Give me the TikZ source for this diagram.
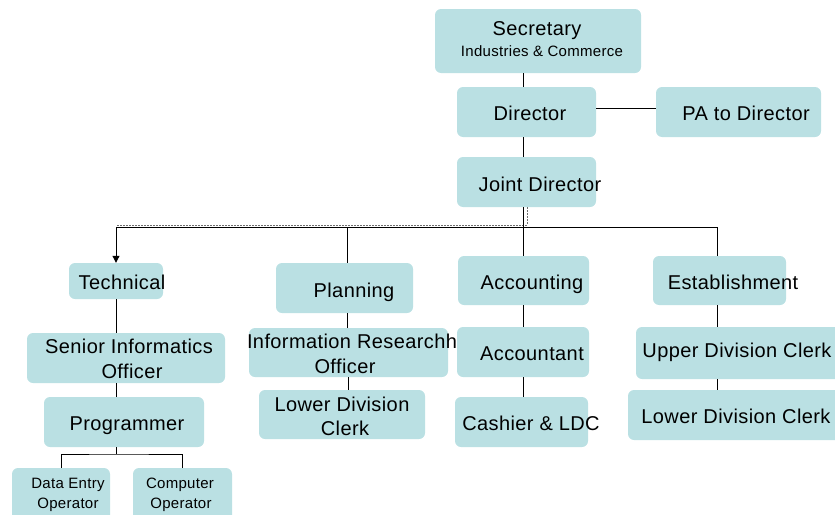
\documentclass[tikz,border=0pt]{standalone}
\usepackage{fontspec}
\setmainfont{Liberation Sans}
\newfontfamily\boxfont[LetterSpace=2]{Liberation Sans}
\usetikzlibrary{arrows.meta}
\definecolor{boxfill}{RGB}{186,224,227}
\definecolor{dashgray}{RGB}{110,110,110}

% \orgbox{name}{left}{top}{right}{bottom}
\newcommand\orgbox[5]{%
  \node[box, minimum width={#4-#2}, minimum height={#5-#3}] (#1)
    at ({(#2+#4)/2},{(#3+#5)/2}) {};}

\begin{document}
\begin{tikzpicture}[x=1pt,y=-1pt,
  box/.style={fill=boxfill, draw=none, rounded corners=6pt, inner sep=0pt},
  big/.style={font=\boxfont\fontsize{20}{24}\selectfont, anchor=base, inner sep=0pt},
  small/.style={font=\boxfont\fontsize{15}{18}\selectfont, anchor=base, inner sep=0pt},
  link/.style={draw=black, line width=1pt},
  dashline/.style={draw=dashgray, line width=0.8pt, dash pattern=on 2pt off 1pt}]
\useasboundingbox (0,0) rectangle (835,514);
\clip (0,0) rectangle (835,514);

% guide coordinates for the connector lines
\coordinate (spine) at (523,0);
\coordinate (dotx) at (527,0);
\coordinate (techx) at (116,0);
\coordinate (planx) at (347,0);
\coordinate (planx2) at (348,0);
\coordinate (estx) at (717,0);
\coordinate (deox) at (61,0);
\coordinate (cox) at (182,0);
\coordinate (paline) at (0,108);
\coordinate (bus) at (0,227);
\coordinate (busdash) at (0,225);
\coordinate (fork) at (116,454);

% boxes
\orgbox{sec}{435}{9}{641}{73}
\orgbox{dir}{457}{87}{596}{137}
\orgbox{pa}{656}{87}{821}{137}
\orgbox{jd}{457}{157}{596}{207}
\orgbox{tech}{69}{263}{163}{299}
\orgbox{plan}{276}{263}{413}{313}
\orgbox{acc}{458}{256}{589}{305}
\orgbox{est}{653}{256}{786}{305}
\orgbox{sio}{27}{333}{225}{383}
\orgbox{prog}{44}{397}{204}{447}
\orgbox{deo}{12}{468}{110}{530}
\orgbox{co}{133}{468}{232}{530}
\orgbox{iro}{249}{328}{448}{377}
\orgbox{ldcp}{259}{390}{425}{439}
\orgbox{acct}{457}{327}{589}{377}
\orgbox{cash}{455}{397}{588}{447}
\orgbox{udc}{636}{327}{850}{379}
\orgbox{ldce}{628}{390}{850}{440}

% labels
\node[big] (sec-t1) at (537,35) {Secretary};
\node[small] (sec-t2) at (542,56) {Industries \& Commerce};
\node[big] (dir-t) at (530,120) {Director};
\node[big] (pa-t) at (746,120) {PA to Director};
\node[big] (jd-t) at (540,191) {Joint Director};
\node[big] (tech-t) at (122,289) {Technical};
\node[big] (plan-t) at (354,297) {Planning};
\node[big] (acc-t) at (532,289) {Accounting};
\node[big] (est-t) at (733,289) {Establishment};
\node[big] (sio-t1) at (129,353) {Senior Informatics};
\node[big] (sio-t2) at (132,378) {Officer};
\node[big] (prog-t) at (127,430) {Programmer};
\node[small] (deo-t1) at (68,488) {Data Entry};
\node[small] (deo-t2) at (68,508) {Operator};
\node[small] (co-t1) at (180,488) {Computer};
\node[small] (co-t2) at (181,508) {Operator};
\node[big] (iro-t1) at (352,348) {Information Researchh};
\node[big] (iro-t2) at (345,373) {Officer};
\node[big] (ldcp-t1) at (342,411) {Lower Division};
\node[big] (ldcp-t2) at (345,435) {Clerk};
\node[big] (acct-t) at (532,360) {Accountant};
\node[big] (cash-t) at (531,430) {Cashier \& LDC};
\node[big] (udc-t) at (737,357) {Upper Division Clerk};
\node[big] (ldce-t) at (736,423) {Lower Division Clerk};

% dotted trace along the left part of the bus
\draw[dashline] (jd.south -| dotx) -- (busdash -| dotx) -- (busdash -| techx);

% top of the hierarchy
\draw[link] (sec.south -| spine) -- (dir.north -| spine);
\draw[link] (dir.south -| spine) -- (jd.north -| spine);
\draw[link] (dir.east |- paline) -- (pa.west |- paline);
\draw[link] (jd.south -| spine) -- (acc.north -| spine);

% bus to the four sections
\draw[link] (bus -| techx) -- (bus -| estx);
\draw[link, -{Triangle[length=7pt,width=7pt]}] (bus -| techx) -- (tech.north -| techx);
\draw[link] (bus -| planx) -- (plan.north -| planx);
\draw[link] (bus -| estx) -- (est.north -| estx);

% technical column
\draw[link] (tech.south -| techx) -- (sio.north -| techx);
\draw[link] (sio.south -| techx) -- (prog.north -| techx);
\draw[link] (prog.south -| techx) -- (fork);
\draw[link] (deo.north -| deox) |- (fork) -| (co.north -| cox);

% planning column
\draw[link] (plan.south -| planx) -- (iro.north -| planx);
\draw[link] (iro.south -| planx2) -- (ldcp.north -| planx2);

% accounting column
\draw[link] (acc.south -| spine) -- (acct.north -| spine);
\draw[link] (acct.south -| spine) -- (cash.north -| spine);

% establishment column
\draw[link] (est.south -| estx) -- (udc.north -| estx);
\draw[link] (udc.south -| estx) -- (ldce.north -| estx);
\end{tikzpicture}
\end{document}
